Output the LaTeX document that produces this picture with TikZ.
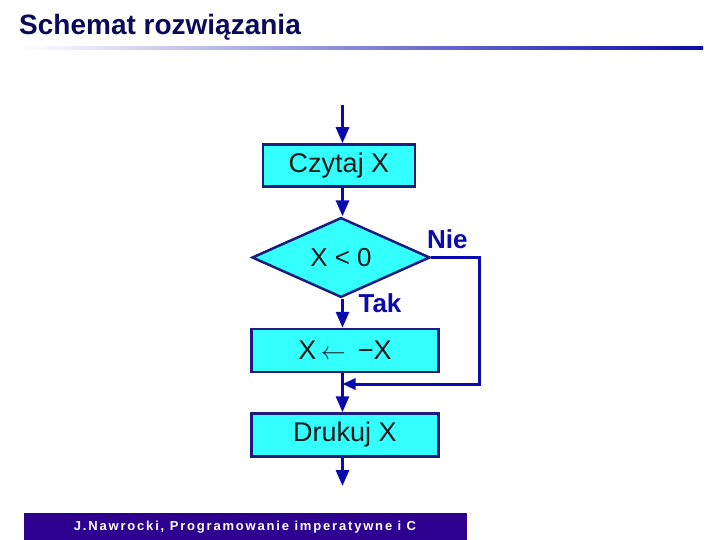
\documentclass[tikz,border=0pt]{standalone}
\usepackage{fontspec}
\setmainfont{Liberation Sans}
\newfontfamily\footfont[LetterSpace=14]{Liberation Sans}
\usetikzlibrary{shapes.geometric,arrows.meta}
\definecolor{flowblue}{HTML}{0A0AB0}
\definecolor{boxedge}{HTML}{1C1C80}
\definecolor{boxfill}{HTML}{33FFFF}
\definecolor{titlecol}{HTML}{0A0A5A}
\definecolor{footbg}{HTML}{2E0090}
\definecolor{boxtext}{HTML}{1A1A1A}
\tikzset{
  procbox/.style={draw=boxedge, fill=boxfill, line width=2.5pt, inner sep=0pt,
    text=boxtext, font=\fontsize{27}{30}\selectfont},
  decbox/.style={diamond, draw=boxedge, fill=boxfill, line width=2.5pt, inner sep=0pt,
    minimum width=178pt, minimum height=72pt, text=boxtext, font=\fontsize{26}{30}\selectfont},
  flow/.style={draw=flowblue, line width=3pt, -{Triangle[length=16pt,width=13pt]}},
  flowline/.style={draw=flowblue, line width=3pt},
  lab/.style={text=flowblue, font=\bfseries\fontsize{26}{30}\selectfont, inner sep=0pt}
}
\begin{document}
\begin{tikzpicture}[x=1pt,y=-1pt]
\useasboundingbox (0,0) rectangle (720,540);
% title
\node[anchor=west, inner sep=0pt, text=titlecol, font=\bfseries\fontsize{28}{30}\selectfont] (title) at (19,27) {Schemat rozwiązania};
\shade[left color=white, right color=flowblue] (20,46.5) rectangle (703,50);
% nodes
\node[procbox, minimum width=152pt, minimum height=42pt] (czytaj) at (339,165.5) {Czytaj X};
\node[decbox] (dec) at (341,257.5) {X < 0};
\node[procbox, minimum width=187pt, minimum height=43pt] (neg) at (345,350.5) {X\,\(\leftarrow\)\;\,−X};
\node[procbox, minimum width=187pt, minimum height=43pt] (druk) at (345,435) {Drukuj X};
\node[lab, anchor=south west] (nie) at (427,249) {Nie};
\node[lab] (tak) at (380,303) {Tak};
% coordinates
\coordinate (start) at (342.5,105);
\coordinate (stop) at (342.5,486);
\coordinate (c1) at (479.5,257.5);
\coordinate (c2) at (479.5,384);
\coordinate (merge) at (342.5,384);
% connectors
\draw[flow] (start) -- (start |- czytaj.north);
\draw[flow] (start |- czytaj.south) -- (start |- dec.north);
\draw[flow] (start |- dec.south) -- (start |- neg.north);
\draw[flow] (start |- neg.south) -- (start |- druk.north);
\draw[flow] (start |- druk.south) -- (stop);
\draw[flowline, -{Triangle[length=13pt,width=11pt]}, line join=miter] (dec.east) -- (c1) -- (c2) -- (merge);
% footer
\fill[footbg] (23.5,513) rectangle (467,540);
\node[text=white, inner sep=0pt, font=\footfont\bfseries\fontsize{13}{15}\selectfont] (foot) at (245,527) {J.Nawrocki, Programowanie imperatywne i C};
\end{tikzpicture}
\end{document}
